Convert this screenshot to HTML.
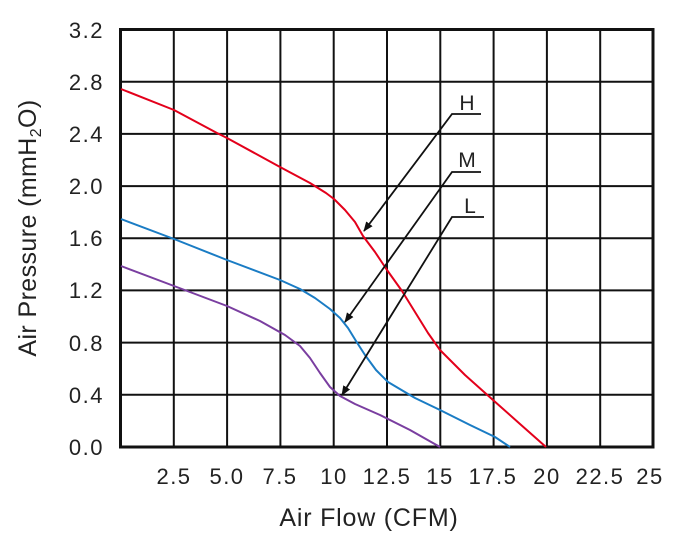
<!DOCTYPE html>
<html><head><style>body{margin:0;background:#fff}svg{display:block}</style></head><body>
<svg width="680" height="544" xmlns="http://www.w3.org/2000/svg" font-family="Liberation Sans, Arial, sans-serif">
<defs><marker id="a" markerWidth="10" markerHeight="8" refX="9" refY="4" orient="auto" markerUnits="userSpaceOnUse"><path d="M0,0 L10,4 L0,8 z" fill="#111"/></marker></defs>
<g stroke="#111" stroke-width="2">
<line x1="173.8" y1="29.5" x2="173.8" y2="447"/><line x1="227.1" y1="29.5" x2="227.1" y2="447"/><line x1="280.4" y1="29.5" x2="280.4" y2="447"/><line x1="333.7" y1="29.5" x2="333.7" y2="447"/><line x1="387" y1="29.5" x2="387" y2="447"/><line x1="440.3" y1="29.5" x2="440.3" y2="447"/><line x1="493.6" y1="29.5" x2="493.6" y2="447"/><line x1="546.9" y1="29.5" x2="546.9" y2="447"/><line x1="600.2" y1="29.5" x2="600.2" y2="447"/>
<line x1="120.5" y1="81.7" x2="653" y2="81.7"/><line x1="120.5" y1="133.9" x2="653" y2="133.9"/><line x1="120.5" y1="186.1" x2="653" y2="186.1"/><line x1="120.5" y1="238.2" x2="653" y2="238.2"/><line x1="120.5" y1="290.4" x2="653" y2="290.4"/><line x1="120.5" y1="342.6" x2="653" y2="342.6"/><line x1="120.5" y1="394.8" x2="653" y2="394.8"/>
</g>
<rect x="120.5" y="29.5" width="532.5" height="417.5" fill="none" stroke="#111" stroke-width="3"/>
<g fill="none" stroke-width="2" stroke-linejoin="round">
<polyline stroke="#e3001b" points="121,89 174,110 217,133 227,138 280,167 310,183 326,193 334,199 345,210 355,222 363,236 375,252 387,270 402,291 415,312 428,333 440,350 465,375 493,400 520,424 546,447"/>
<polyline stroke="#1a7cc4" points="121,219 174,239 227,260 280,280 300,289 315,298 330,309 340,318 348,328 356,341 365,355 376,370 388,382 415,398 440,410 470,425 495,437 510,447"/>
<polyline stroke="#7a3ea0" points="121,266 174,286 227,306 260,321 285,335 300,346 310,358 320,373 330,387 340,396 355,404 380,415 410,430 440,447"/>
</g>
<g stroke="#111" stroke-width="1.8" fill="none">
<polyline points="481,114 452,114 364,231" marker-end="url(#a)"/>
<polyline points="481,172 452,172 345,322" marker-end="url(#a)"/>
<polyline points="484,217 452,217 342,395" marker-end="url(#a)"/>
</g>
<g font-size="21" fill="#222" text-anchor="middle">
<text x="467" y="110">H</text><text x="467" y="167">M</text><text x="470" y="213">L</text>
</g>
<g font-size="22" fill="#222" text-anchor="end" letter-spacing="1.5">
<text x="104" y="38">3.2</text><text x="104" y="90">2.8</text><text x="104" y="142">2.4</text><text x="104" y="194">2.0</text><text x="104" y="246">1.6</text><text x="104" y="298">1.2</text><text x="104" y="351">0.8</text><text x="104" y="403">0.4</text><text x="104" y="455">0.0</text>
</g>
<g font-size="22" fill="#222" text-anchor="middle" letter-spacing="1.5">
<text x="174" y="484">2.5</text><text x="227" y="484">5.0</text><text x="280" y="484">7.5</text><text x="334" y="484">10</text><text x="387" y="484">12.5</text><text x="440" y="484">15</text><text x="493" y="484">17.5</text><text x="547" y="484">20</text><text x="600" y="484">22.5</text><text x="650" y="484">25</text>
</g>
<text x="369" y="526" font-size="25" fill="#222" text-anchor="middle" letter-spacing="0.8">Air Flow (CFM)</text>
<text transform="translate(36,228) rotate(-90)" font-size="25" fill="#222" text-anchor="middle" letter-spacing="0.4">Air Pressure (mmH<tspan font-size="16" dy="5">2</tspan><tspan dy="-5">O)</tspan></text>
</svg>
</body></html>
